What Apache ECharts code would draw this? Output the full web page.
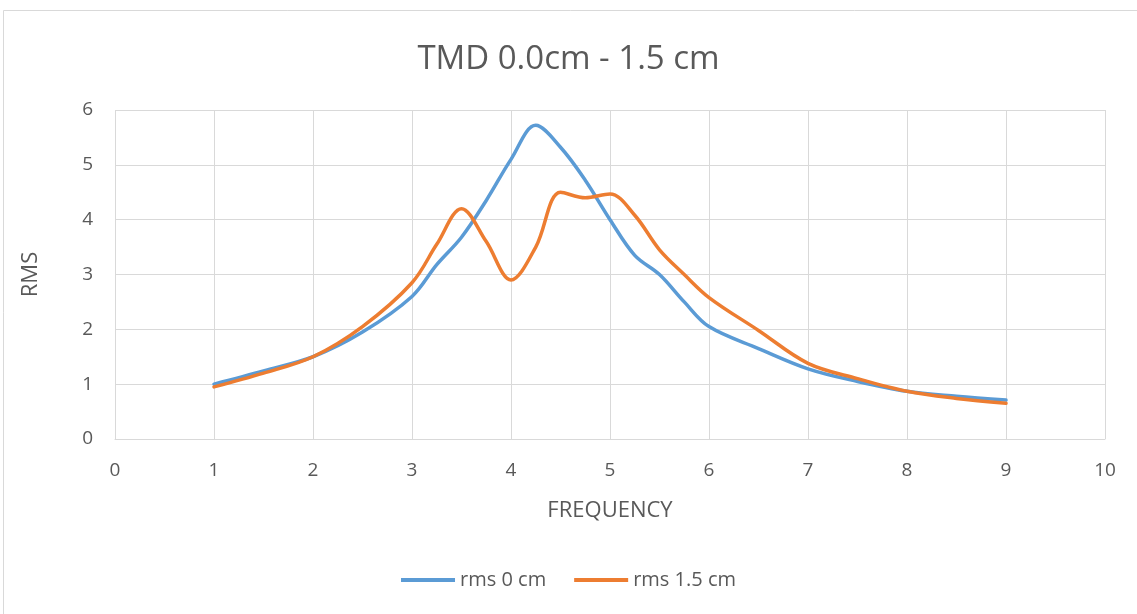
<!DOCTYPE html>
<html>
<head>
<meta charset="utf-8">
<script src="https://cdn.jsdelivr.net/npm/echarts@6/dist/echarts.min.js"></script>
<style>
  html, body { margin: 0; padding: 0; background: #fff; }
  #chart { width: 1137px; height: 614px; }
</style>
</head>
<body>
<div id="chart"></div>
<script>
// Frequency sample points
const frequency = [1, 1.5, 2, 2.5, 3, 3.25, 3.5, 3.75, 4, 4.25, 4.5, 4.75, 5, 5.25, 5.5, 5.75, 6, 6.5, 7, 7.5, 8, 8.5, 9];
// RMS response without offset
const rms0cm = [1.0, 1.24, 1.5, 1.95, 2.6, 3.18, 3.68, 4.35, 5.1, 5.72, 5.32, 4.72, 4.0, 3.35, 3.0, 2.5, 2.05, 1.65, 1.28, 1.05, 0.87, 0.78, 0.71];
// RMS response with 1.5 cm offset
const rms15cm = [0.95, 1.2, 1.5, 2.05, 2.85, 3.55, 4.2, 3.6, 2.9, 3.5, 4.5, 4.4, 4.47, 4.08, 3.45, 3.0, 2.58, 1.98, 1.38, 1.1, 0.87, 0.74, 0.65];
const xTicks = [0, 10, 1];
const yTicks = [0, 6, 1];

const toPairs = (xs, ys) => xs.map((x, i) => [x, ys[i]]);
const textColor = '#595959';
const gridColor = '#d9d9d9';
const font = '"Open Sans", "Noto Sans", sans-serif';

const chart = echarts.init(document.getElementById('chart'));
chart.setOption({
  backgroundColor: '#fff',
  animation: false,
  graphic: [{
    type: 'rect',
    shape: { x: 3.5, y: 10.5, width: 1140, height: 610 },
    style: { fill: 'none', stroke: '#d9d9d9', lineWidth: 1 },
    silent: true
  }],
  title: {
    text: 'TMD 0.0cm - 1.5 cm',
    left: 'center',
    top: 38,
    textStyle: { color: textColor, fontSize: 33, fontWeight: 'normal', fontFamily: font }
  },
  legend: {
    bottom: 19,
    left: 'center',
    itemWidth: 54,
    itemHeight: 4,
    itemGap: 28,
    icon: 'rect',
    textStyle: { color: textColor, fontSize: 20, fontFamily: font },
    data: ['rms 0 cm', 'rms 1.5 cm']
  },
  grid: { left: 115, right: 32, top: 110, bottom: 175 },
  xAxis: {
    type: 'value',
    min: xTicks[0], max: xTicks[1], interval: xTicks[2],
    name: 'FREQUENCY',
    nameLocation: 'middle',
    nameGap: 61,
    nameTextStyle: { color: textColor, fontSize: 22, fontFamily: font },
    axisLine: { show: true, lineStyle: { color: gridColor, width: 1 } },
    axisTick: { show: false },
    axisLabel: { color: textColor, fontSize: 19, margin: 22, fontFamily: font },
    splitLine: { show: true, lineStyle: { color: gridColor, width: 1 } }
  },
  yAxis: {
    type: 'value',
    min: yTicks[0], max: yTicks[1], interval: yTicks[2],
    name: 'RMS',
    nameLocation: 'middle',
    nameGap: 73,
    nameTextStyle: { color: textColor, fontSize: 22, fontFamily: font },
    axisLine: { show: false },
    axisTick: { show: false },
    axisLabel: { color: textColor, fontSize: 19, margin: 22, fontFamily: font },
    splitLine: { show: true, lineStyle: { color: gridColor, width: 1 } }
  },
  series: [
    {
      name: 'rms 0 cm',
      type: 'line',
      data: toPairs(frequency, rms0cm),
      smooth: 0.35,
      showSymbol: false,
      lineStyle: { color: '#5B9BD5', width: 3.5, cap: 'round' },
      itemStyle: { color: '#5B9BD5' }
    },
    {
      name: 'rms 1.5 cm',
      type: 'line',
      data: toPairs(frequency, rms15cm),
      smooth: 0.35,
      showSymbol: false,
      lineStyle: { color: '#ED7D31', width: 3.5, cap: 'round' },
      itemStyle: { color: '#ED7D31' }
    }
  ]
});
</script>
</body>
</html>
